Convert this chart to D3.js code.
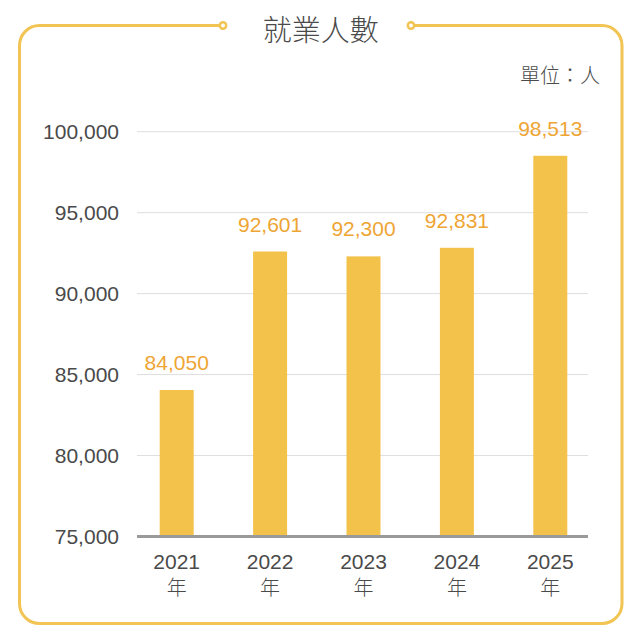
<!DOCTYPE html>
<html>
<head>
<meta charset="utf-8">
<script src="https://cdn.jsdelivr.net/npm/d3@7/dist/d3.min.js"></script>
<style>
  html, body { margin: 0; padding: 0; background: #fff; }
  .chart { width: 642px; height: 637px; }
  text { font-family: "Liberation Sans", Arial, "Noto Sans CJK TC", sans-serif; }
  .cjk { font-family: "Noto Sans CJK TC", "Noto Sans CJK SC", sans-serif; }
</style>
</head>
<body>
<div class="chart"></div>
<script>
// 資料
var years = ['2021', '2022', '2023', '2024', '2025'];
var employed = [84050, 92601, 92300, 92831, 98513];
var yTicks = [75000, 80000, 85000, 90000, 95000, 100000];
var title = '就業人數';
var unitLabel = '單位：人';

var width = 642, height = 637;
var frameColor = '#f1c453',
  barColor = '#f3c24a',
  valueColor = '#eea534',
  textColor = '#4a4a4a';

var svg = d3.select('.chart').append('svg')
  .attr('width', width)
  .attr('height', height);

// 外框 (上方中間留空給標題)
var fx0 = 19.5, fx1 = 622, fy0 = 25.5, fy1 = 623.5, r = 20;
var gapL = 223, gapR = 411;
var framePath = d3.path();
framePath.moveTo(gapL, fy0);
framePath.lineTo(fx0 + r, fy0);
framePath.arcTo(fx0, fy0, fx0, fy0 + r, r);
framePath.lineTo(fx0, fy1 - r);
framePath.arcTo(fx0, fy1, fx0 + r, fy1, r);
framePath.lineTo(fx1 - r, fy1);
framePath.arcTo(fx1, fy1, fx1, fy1 - r, r);
framePath.lineTo(fx1, fy0 + r);
framePath.arcTo(fx1, fy0, fx1 - r, fy0, r);
framePath.lineTo(gapR, fy0);

svg.append('path')
  .attr('d', framePath.toString())
  .attr('fill', 'none')
  .attr('stroke', frameColor)
  .attr('stroke-width', 3);

svg.selectAll('.dot')
  .data([gapL, gapR])
  .enter()
  .append('circle')
  .attr('class', 'dot')
  .attr('cx', function (d) { return d; })
  .attr('cy', fy0)
  .attr('r', 3.2)
  .attr('fill', '#fff')
  .attr('stroke', frameColor)
  .attr('stroke-width', 2.5);

// 標題
svg.append('text')
  .attr('class', 'cjk')
  .attr('x', (fx0 + fx1) / 2)
  .attr('y', 28)
  .attr('dominant-baseline', 'central')
  .attr('text-anchor', 'middle')
  .attr('font-size', 29)
  .attr('font-weight', 300)
  .attr('fill', textColor)
  .text(title);

svg.append('text')
  .attr('class', 'cjk')
  .attr('x', 600)
  .attr('y', 83)
  .attr('text-anchor', 'end')
  .attr('font-size', 20)
  .attr('font-weight', 300)
  .attr('fill', textColor)
  .text(unitLabel);

// 比例尺
var plotLeft = 137, plotRight = 588;
var yScale = d3.scaleLinear()
  .domain([75000, 100000])
  .range([536.5, 131.7]);
var xScale = d3.scalePoint()
  .domain(years)
  .range([130, 597])
  .padding(0.5);
var barWidth = 34;
var fmt = d3.format(',');

// 橫向網格線
svg.append('g')
  .selectAll('line')
  .data(yTicks.slice(1))
  .enter()
  .append('line')
  .attr('x1', plotLeft)
  .attr('x2', plotRight)
  .attr('y1', function (d) { return yScale(d); })
  .attr('y2', function (d) { return yScale(d); })
  .attr('stroke', '#dedede')
  .attr('stroke-width', 1);

// y 軸標籤
var yAxis = d3.axisLeft(yScale)
  .tickValues(yTicks)
  .tickFormat(fmt)
  .tickSize(0)
  .tickPadding(0);
var yg = svg.append('g')
  .attr('transform', 'translate(119,0)')
  .call(yAxis);
yg.select('.domain').remove();
yg.selectAll('text')
  .attr('font-family', '"Liberation Sans", Arial, sans-serif')
  .attr('font-size', 21)
  .attr('fill', textColor);

// 柱
svg.append('g')
  .selectAll('rect')
  .data(employed)
  .enter()
  .append('rect')
  .attr('x', function (d, i) { return xScale(years[i]) - barWidth / 2; })
  .attr('y', function (d) { return yScale(d); })
  .attr('width', barWidth)
  .attr('height', function (d) { return yScale(75000) - yScale(d); })
  .attr('fill', barColor);

// 數值
svg.append('g')
  .selectAll('text')
  .data(employed)
  .enter()
  .append('text')
  .attr('x', function (d, i) { return xScale(years[i]); })
  .attr('y', function (d) { return yScale(d) - 20; })
  .attr('text-anchor', 'middle')
  .attr('font-size', 21)
  .attr('fill', valueColor)
  .text(function (d) { return fmt(d); });

// x 軸線
svg.append('line')
  .attr('x1', plotLeft)
  .attr('x2', plotRight)
  .attr('y1', yScale(75000))
  .attr('y2', yScale(75000))
  .attr('stroke', '#9a9a9a')
  .attr('stroke-width', 3);

// x 軸標籤
var xl = svg.append('g')
  .selectAll('text')
  .data(years)
  .enter()
  .append('text')
  .attr('text-anchor', 'middle')
  .attr('font-size', 21)
  .attr('fill', textColor);
xl.append('tspan')
  .attr('x', function (d) { return xScale(d); })
  .attr('y', 569)
  .text(function (d) { return d; });
xl.append('tspan')
  .attr('class', 'cjk')
  .attr('x', function (d) { return xScale(d); })
  .attr('y', 595)
  .attr('font-size', 20)
  .attr('font-weight', 300)
  .text('年');
</script>
</body>
</html>
